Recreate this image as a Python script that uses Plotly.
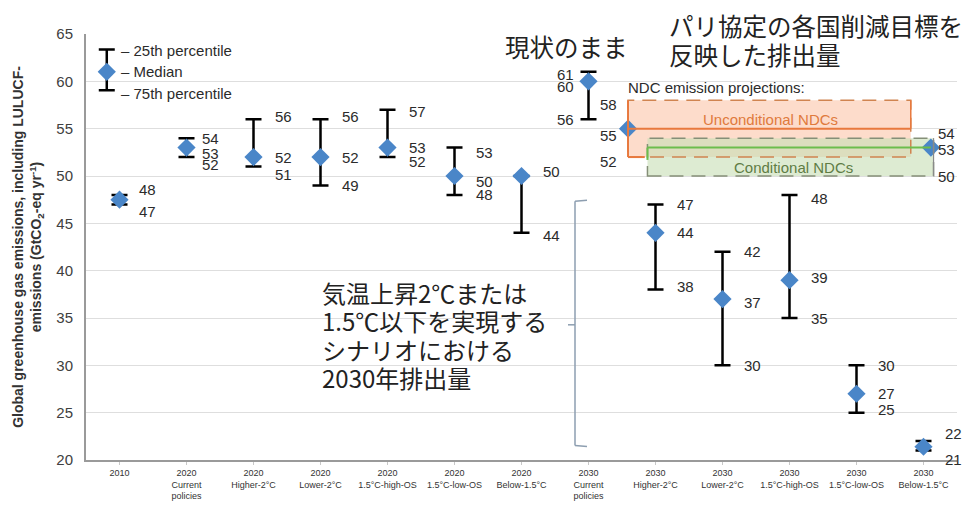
import plotly.graph_objects as go

# ---- data -------------------------------------------------------------
categories = [
    "2010", "2020<br>Current<br>policies", "2020<br>Higher-2°C", "2020<br>Lower-2°C",
    "2020<br>1.5°C-high-OS", "2020<br>1.5°C-low-OS", "2020<br>Below-1.5°C",
    "2030<br>Current<br>policies", "2030<br>Higher-2°C", "2030<br>Lower-2°C",
    "2030<br>1.5°C-high-OS", "2030<br>1.5°C-low-OS", "2030<br>Below-1.5°C",
]
p25 = [48, 54, 56, 56, 57, 53, 50, 61, 47, 42, 48, 30, 22]
median = [47.5, 53, 52, 52, 53, 50, 50, 60, 44, 37, 39, 27, 21.4]
p75 = [47, 52, 51, 49, 52, 48, 44, 56, 38, 30, 35, 25, 21]

# NDC projections for 2030: 25th percentile, median, 75th percentile
ndc_unconditional = [58, 55, 52]
ndc_conditional = [54, 53, 50]

# ---- styling ----------------------------------------------------------
W, H = 967, 511
L, R, T, B = 86, 957, 34, 472
BLUE = "#4a86c8"
TXT = "#2b2b2b"
LAT = "Liberation Sans, Arial, sans-serif"
JP = "Noto Sans CJK JP, sans-serif"


def xp(px):
    return (px - L) / (R - L)


def yp(py):
    return (B - py) / (B - T)


# which values carry a label, and small nudges (px, +up) to keep them apart
label_keys = ["hl", "hml", "hml", "hml", "hml", "hml", "ml",
              "hml", "hml", "hml", "hml", "hml", "hl"]
nudge = {(0, "h"): 5, (0, "l"): -7, (1, "m"): -6, (1, "l"): -7, (2, "h"): 3,
         (2, "l"): -8, (3, "h"): 3, (4, "h"): -2, (4, "l"): -4, (5, "h"): -5,
         (5, "m"): -5, (6, "m"): 5, (6, "l"): -3, (7, "h"): -3, (7, "m"): -5,
         (8, "l"): 3, (9, "m"): -3, (10, "h"): -4, (10, "m"): 3, (11, "l"): 3,
         (12, "h"): 8, (12, "l"): -9}
label_dx = {0: 17, 1: 13}

xs = list(range(len(categories)))
X_UNC, X_UNC_END = 7.59, 11.81
X_CON, X_CON_END = 7.88, 12.11

fig = go.Figure()

# scenario ranges: whisker from 75th to 25th percentile, diamond at median
fig.add_trace(go.Scatter(
    x=xs, y=median, mode="markers",
    marker=dict(symbol="diamond", size=14, color=BLUE),
    error_y=dict(type="data", symmetric=False,
                 array=[h - m for h, m in zip(p25, median)],
                 arrayminus=[m - l for m, l in zip(median, p75)],
                 color="black", thickness=2.5, width=8),
    hoverinfo="skip", showlegend=False,
))

# NDC medians
fig.add_trace(go.Scatter(
    x=[X_UNC, X_CON_END], y=[ndc_unconditional[1], ndc_conditional[1]],
    mode="markers", marker=dict(symbol="diamond", size=14, color=BLUE),
    hoverinfo="skip", showlegend=False,
))

# legend glyph (top-left)
fig.add_trace(go.Scatter(
    x=[-0.19], y=[61.0], mode="markers",
    marker=dict(symbol="diamond", size=14, color=BLUE),
    error_y=dict(type="data", symmetric=False, array=[2.35], arrayminus=[1.95],
                 color="black", thickness=2.5, width=8),
    hoverinfo="skip", showlegend=False,
))

shapes = []
# NDC boxes
shapes.append(dict(type="rect", xref="x", yref="y", x0=X_UNC, x1=X_UNC_END,
                   y0=ndc_unconditional[2], y1=ndc_unconditional[0],
                   fillcolor="#fddccb", line=dict(width=0), layer="between"))
shapes.append(dict(type="rect", xref="x", yref="y", x0=X_CON, x1=X_CON_END + 0.04,
                   y0=ndc_conditional[2], y1=ndc_conditional[0],
                   fillcolor="rgba(200,222,182,0.62)", line=dict(width=0), layer="between"))
shapes.append(dict(type="rect", xref="x", yref="y", x0=X_UNC, x1=X_UNC_END,
                   y0=ndc_unconditional[2], y1=ndc_unconditional[0],
                   line=dict(color="#d08450", width=1.5, dash="14px,8px")))
shapes.append(dict(type="rect", xref="x", yref="y", x0=X_CON, x1=X_CON_END + 0.04,
                   y0=ndc_conditional[2], y1=ndc_conditional[0],
                   line=dict(color="#858f78", width=1.5, dash="14px,8px")))
# solid range / median lines
shapes += [
    dict(type="line", xref="x", yref="y", x0=X_UNC, x1=X_UNC,
         y0=ndc_unconditional[2], y1=ndc_unconditional[0], line=dict(color="#e8793e", width=2)),
    dict(type="line", xref="x", yref="y", x0=X_UNC, x1=X_UNC + 0.25,
         y0=ndc_unconditional[2], y1=ndc_unconditional[2], line=dict(color="#e8793e", width=2)),
    dict(type="line", xref="x", yref="y", x0=X_UNC, x1=X_UNC_END,
         y0=ndc_unconditional[1], y1=ndc_unconditional[1], line=dict(color="#e8793e", width=2)),
    dict(type="line", xref="x", yref="y", x0=X_UNC_END, x1=X_UNC_END,
         y0=ndc_unconditional[1], y1=ndc_unconditional[0], line=dict(color="#e8793e", width=1.5)),
    dict(type="line", xref="x", yref="y", x0=X_CON, x1=X_CON_END,
         y0=ndc_conditional[1], y1=ndc_conditional[1], line=dict(color="#6cbd4c", width=2)),
    dict(type="line", xref="x", yref="y", x0=X_CON, x1=X_CON,
         y0=ndc_conditional[1] - 1.3, y1=ndc_conditional[1], line=dict(color="#6cbd4c", width=2)),
    dict(type="line", xref="x", yref="y", x0=X_CON_END + 0.04, x1=X_CON_END + 0.04,
         y0=ndc_conditional[2], y1=ndc_conditional[0], line=dict(color="#8a8a8a", width=1.2)),
]
# bracket grouping the 2030 scenario columns
BR = "#8d9eb0"
shapes += [
    dict(type="line", xref="paper", yref="paper", x0=xp(575), x1=xp(575), y0=yp(206), y1=yp(457),
         line=dict(color=BR, width=1.5)),
    dict(type="line", xref="paper", yref="paper", x0=xp(575), x1=xp(587), y0=yp(206), y1=yp(205),
         line=dict(color=BR, width=1.5)),
    dict(type="line", xref="paper", yref="paper", x0=xp(575), x1=xp(587), y0=yp(457), y1=yp(458),
         line=dict(color=BR, width=1.5)),
    dict(type="line", xref="paper", yref="paper", x0=xp(568), x1=xp(575), y0=yp(333), y1=yp(333),
         line=dict(color=BR, width=1.5)),
]
# white panel behind the scenario caption
shapes.append(dict(type="rect", xref="paper", yref="paper", x0=xp(310), x1=xp(558),
                   y0=yp(404), y1=yp(283), fillcolor="white", line=dict(width=0),
                   layer="between"))

ann = []
# value labels
for i in xs:
    vals = {"h": p25[i], "m": median[i], "l": p75[i]}
    for k in label_keys[i]:
        left_side = i == 7
        ann.append(dict(
            x=i, y=vals[k], xref="x", yref="y", text=f"{vals[k]:.0f}", showarrow=False,
            xanchor="right" if left_side else "left", yanchor="middle",
            xshift=-13 if left_side else label_dx.get(i, 19), yshift=nudge.get((i, k), 0),
            font=dict(family=LAT, size=15, color=TXT),
        ))
for v, dy in zip(ndc_unconditional, [-4, -7, -4]):
    ann.append(dict(x=X_UNC, y=v, xref="x", yref="y", text=f"{v:.0f}", showarrow=False,
                    xanchor="right", yanchor="middle", xshift=-9, yshift=dy,
                    font=dict(family=LAT, size=15, color=TXT)))
for v, dy in zip(ndc_conditional, [5, -2, 0]):
    ann.append(dict(x=X_CON_END, y=v, xref="x", yref="y", text=f"{v:.0f}", showarrow=False,
                    xanchor="left", yanchor="middle", xshift=5, yshift=dy,
                    font=dict(family=LAT, size=15, color=TXT)))

# legend text
for txt, py in [("– 25th percentile", 51), ("– Median", 73), ("– 75th percentile", 95)]:
    ann.append(dict(x=xp(119), y=yp(py), xref="paper", yref="paper", text=txt, showarrow=False,
                    xanchor="left", yanchor="middle", font=dict(family=LAT, size=15, color=TXT)))

# NDC texts
ann.append(dict(x=xp(626), y=yp(89), xref="paper", yref="paper", text="NDC emission projections:",
                showarrow=False, xanchor="left", yanchor="middle",
                font=dict(family=LAT, size=15, color=TXT)))
ann.append(dict(x=xp(770), y=yp(122), xref="paper", yref="paper", text="Unconditional NDCs",
                showarrow=False, xanchor="center", yanchor="middle",
                font=dict(family=LAT, size=15, color="#e07a3c")))
ann.append(dict(x=xp(793), y=yp(171), xref="paper", yref="paper", text="Conditional NDCs",
                showarrow=False, xanchor="center", yanchor="middle",
                font=dict(family=LAT, size=15, color="#5f7d45")))

# Japanese captions
ann.append(dict(x=xp(566), y=yp(47), xref="paper", yref="paper", text="現状のまま",
                showarrow=False, xanchor="center", yanchor="middle",
                font=dict(family=JP, size=24.5, color="#222")))
for line, py in [("パリ協定の各国削減目標を", 25), ("反映した排出量", 55)]:
    ann.append(dict(x=xp(667), y=yp(py), xref="paper", yref="paper", text=line,
                    showarrow=False, xanchor="left", yanchor="middle",
                    font=dict(family=JP, size=24.5, color="#222")))
for line, py in [("気温上昇2℃または", 300), ("1.5℃以下を実現する", 329),
                 ("シナリオにおける", 358), ("2030年排出量", 387)]:
    ann.append(dict(x=xp(320), y=yp(py), xref="paper", yref="paper", text=line,
                    showarrow=False, xanchor="left", yanchor="middle",
                    font=dict(family=JP, size=24, color="#222")))

fig.update_layout(
    width=W, height=H,
    margin=dict(l=L, r=W - R, t=T, b=H - B),
    paper_bgcolor="white", plot_bgcolor="white",
    shapes=shapes, annotations=ann,
    xaxis=dict(range=[-0.5, 12.5], tickvals=xs, ticktext=categories,
               showgrid=False, zeroline=False, showline=True, linecolor="#9a9a9a", linewidth=2,
               ticks="outside", ticklen=3, tickcolor="#c8c8c8",
               tickfont=dict(family=LAT, size=9, color="#333")),
    yaxis=dict(range=[20, 65], dtick=5, tick0=20, showgrid=True, gridcolor="#dedede", gridwidth=1,
               zeroline=False, showline=True, linecolor="#9a9a9a", linewidth=2,
               ticks="", ticklabelstandoff=8,
               tickfont=dict(family=LAT, size=15, color="#404040"),
               title=dict(text="<b>Global greenhouse gas emissions, including LULUCF-<br>"
                               "emissions (GtCO<sub>2</sub>-eq yr<sup>-1</sup>)</b>",
                          font=dict(family=LAT, size=14, color="#333"), standoff=11)),
)

fig.write_html("out.html")
